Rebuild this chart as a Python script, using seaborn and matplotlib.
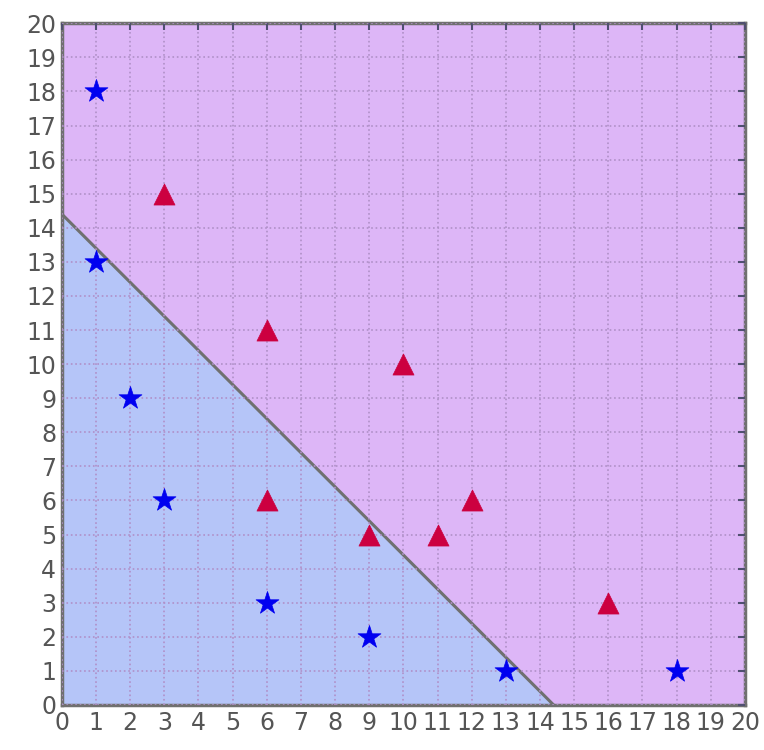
import matplotlib
matplotlib.use("Agg")
import matplotlib.pyplot as plt
import seaborn as sns
import pandas as pd
import numpy as np

# data
star_x = [1, 1, 2, 3, 6, 9, 13, 18]
star_y = [18, 13, 9, 6, 3, 2, 1, 1]
tri_x = [3, 6, 10, 6, 9, 11, 12, 16]
tri_y = [15, 11, 10, 6, 5, 5, 6, 3]
boundary_x = [0, 14.4]
boundary_y = [14.4, 0]
ticks = list(range(0, 21))

sns.set_style("white")
plt.rcParams['font.family'] = ['DejaVu Sans']

fig = plt.figure(figsize=(7.64, 7.5), dpi=100)
ax = fig.add_axes([0.081, 0.06, 0.894, 0.909])

ax.set_facecolor('#ddb6f7')
ax.fill_between(boundary_x, boundary_y, 0, color='#b5c5f8', zorder=0, linewidth=0)
sns.lineplot(x=boundary_x, y=boundary_y, ax=ax, color='#707070', linewidth=2.2, zorder=2)

df_s = pd.DataFrame({'x': star_x, 'y': star_y})
df_t = pd.DataFrame({'x': tri_x, 'y': tri_y})
sns.scatterplot(data=df_s, x='x', y='y', ax=ax, marker='*', s=300, color='#0000f0',
                edgecolor='#0000f0', linewidth=0.5, zorder=3)
sns.scatterplot(data=df_t, x='x', y='y', ax=ax, marker='^', s=230, color='#cc0040',
                edgecolor='#cc0040', linewidth=0.5, zorder=3)

ax.set_xlim(0, 20)
ax.set_ylim(0, 20)
ax.set_xticks(ticks)
ax.set_yticks(ticks)
ax.set_xticklabels([str(t) for t in ticks])
ax.set_yticklabels([str(t) for t in ticks])
ax.grid(True, linestyle=':', color='#b090c8', linewidth=1.2)
ax.set_axisbelow(False)
for l in ax.get_xgridlines() + ax.get_ygridlines():
    l.set_zorder(1)
ax.tick_params(axis='both', direction='in', length=5, width=1.5, color='#505070',
               labelsize=17, labelcolor='#555555', top=True, right=True, pad=4)
for sp in ax.spines.values():
    sp.set_color('#707070')
    sp.set_linewidth(2.5)
ax.set_xlabel('')
ax.set_ylabel('')

fig.savefig('out.png', dpi=100)
